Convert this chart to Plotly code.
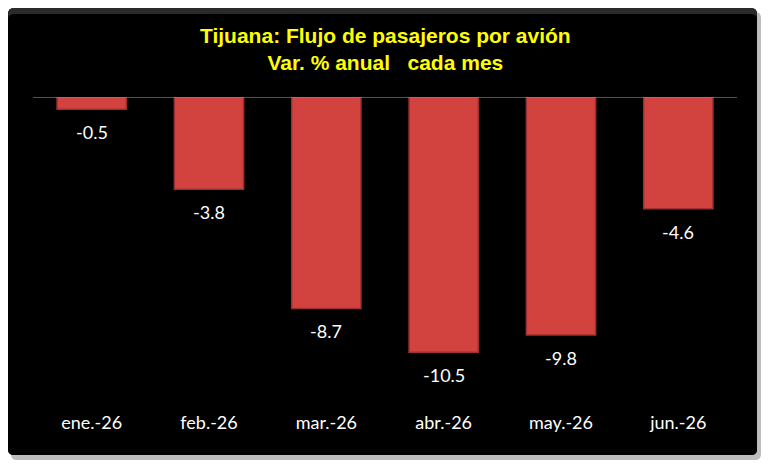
import plotly.graph_objects as go

categories = ["ene.-26", "feb.-26", "mar.-26", "abr.-26", "may.-26", "jun.-26"]
values = [-0.5, -3.8, -8.7, -10.5, -9.8, -4.6]
title_lines = ["Tijuana: Flujo de pasajeros por avión", "Var. % anual   cada mes"]

W, H = 770, 470
L, R, T, B = 33, 737, 97, 400
pw, ph = R - L, B - T

def px_x(p):
    return (p - L) / pw

def px_y(p):
    return (B - p) / ph

def rrect(x0, y0, x1, y1, r):
    return (f"M {px_x(x0+r)},{px_y(y0)} L {px_x(x1-r)},{px_y(y0)} "
            f"Q {px_x(x1)},{px_y(y0)} {px_x(x1)},{px_y(y0+r)} "
            f"L {px_x(x1)},{px_y(y1-r)} Q {px_x(x1)},{px_y(y1)} {px_x(x1-r)},{px_y(y1)} "
            f"L {px_x(x0+r)},{px_y(y1)} Q {px_x(x0)},{px_y(y1)} {px_x(x0)},{px_y(y1-r)} "
            f"L {px_x(x0)},{px_y(y0+r)} Q {px_x(x0)},{px_y(y0)} {px_x(x0+r)},{px_y(y0)} Z")

lab_font = dict(color="white", size=18, family="Lato, Open Sans, sans-serif")

fig = go.Figure()
fig.add_trace(go.Bar(
    x=categories, y=values,
    width=0.59,
    marker=dict(color="#d2433f", line=dict(color="#9e302d", width=1.5)),
    cliponaxis=False,
))

shapes = [
    dict(type="path", xref="paper", yref="paper", path=rrect(11, 12, 761, 460, 6),
         fillcolor="#bdbdbd", line=dict(width=0), layer="below"),
    dict(type="path", xref="paper", yref="paper", path=rrect(8, 8, 757, 455, 6),
         fillcolor="#000000", line=dict(width=0), layer="below"),
    dict(type="path", xref="paper", yref="paper", path=rrect(8, 8, 757, 20, 6),
         fillcolor="#2a2a2a", line=dict(width=0), layer="below"),
    dict(type="path", xref="paper", yref="paper", path=rrect(8, 14, 757, 455, 6),
         fillcolor="#000000", line=dict(width=0), layer="below"),
    dict(type="line", xref="paper", yref="y", x0=0, x1=1, y0=0, y1=0,
         line=dict(color="#a6a6a6", width=1)),
]

annotations = [dict(
    text="<b>" + title_lines[0] + "</b><br><b>" + title_lines[1] + "</b>",
    xref="paper", yref="paper", x=px_x(385), y=px_y(49),
    xanchor="center", yanchor="middle", showarrow=False,
    font=dict(color="#ffff00", size=21, family="Liberation Sans Narrow, Arial Narrow, sans-serif"),
)]
for c, v in zip(categories, values):
    annotations.append(dict(
        x=c, y=v, xref="x", yref="y", text=f"{v:.1f}", showarrow=False,
        yanchor="middle", yshift=-23, font=lab_font,
    ))

fig.update_layout(
    width=W, height=H,
    margin=dict(l=L, r=W - R, t=T, b=H - B),
    paper_bgcolor="white", plot_bgcolor="rgba(0,0,0,0)",
    shapes=shapes,
    showlegend=False,
    annotations=annotations,
    xaxis=dict(showgrid=False, zeroline=False, showline=False, ticks="",
               tickfont=lab_font, ticklabelstandoff=10),
    yaxis=dict(range=[-12.47, 0], visible=False, showgrid=False, zeroline=False),
)

fig.write_html("out.html")
